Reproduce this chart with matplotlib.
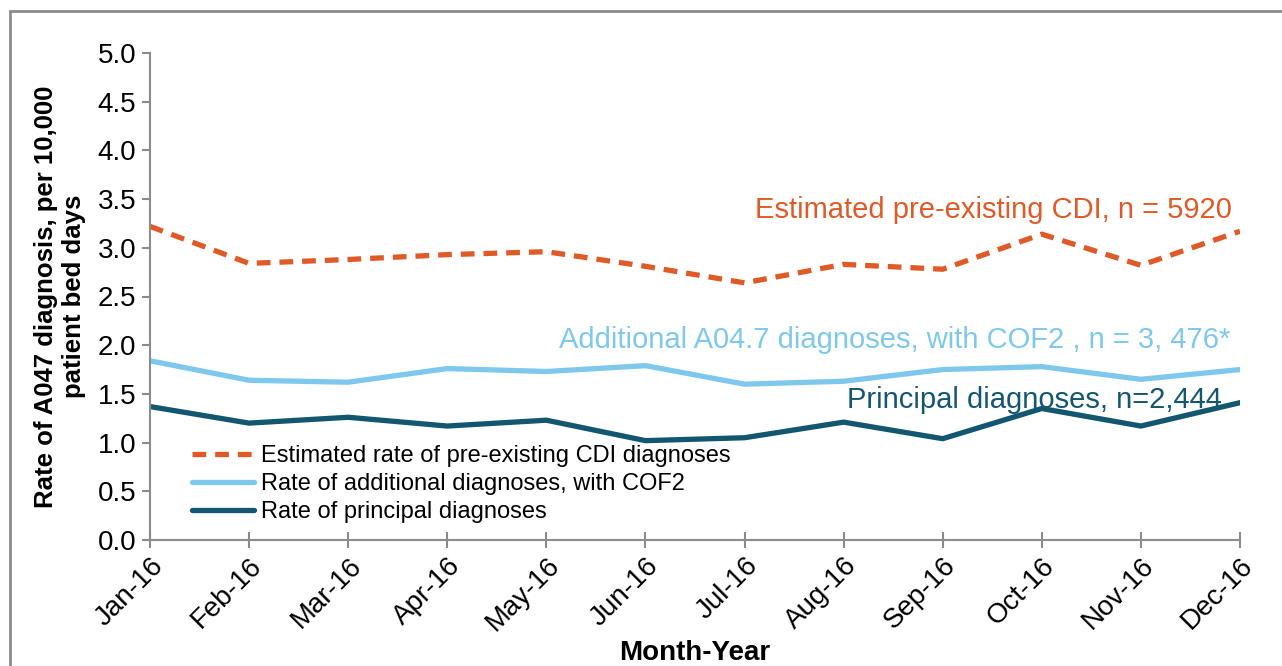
import numpy as np
import matplotlib.pyplot as plt
from matplotlib.patches import Rectangle

months = ['Jan-16', 'Feb-16', 'Mar-16', 'Apr-16', 'May-16', 'Jun-16',
          'Jul-16', 'Aug-16', 'Sep-16', 'Oct-16', 'Nov-16', 'Dec-16']
pre_existing = [3.22, 2.84, 2.88, 2.93, 2.96, 2.81, 2.64, 2.83, 2.78, 3.14, 2.82, 3.17]
additional = [1.84, 1.64, 1.62, 1.76, 1.73, 1.79, 1.60, 1.63, 1.75, 1.78, 1.65, 1.75]
principal = [1.37, 1.20, 1.26, 1.17, 1.23, 1.02, 1.05, 1.21, 1.04, 1.35, 1.17, 1.41]

c_orange = '#E05A28'
c_light = '#7DC8EC'
c_dark = '#125670'
c_axis = '#8C8C8C'

plt.rcParams['font.family'] = ['Liberation Sans', 'DejaVu Sans']

fig = plt.figure(figsize=(12.82, 6.66), dpi=100)
W, H = 1282, 666
ax = fig.add_axes([150 / W, 1 - 540 / H, (1240 - 150) / W, (540 - 53) / H])

x = np.arange(len(months))
ax.plot(x, pre_existing, color=c_orange, lw=3.8, ls=(0, (2.6, 1.7)),
        label='Estimated rate of pre-existing CDI diagnoses')
ax.plot(x, additional, color=c_light, lw=3.8, solid_capstyle='round',
        label='Rate of additional diagnoses, with COF2')
ax.plot(x, principal, color=c_dark, lw=3.8, solid_capstyle='round',
        label='Rate of principal diagnoses')

ax.set_xlim(0, len(months) - 1)
ax.set_ylim(0, 5)
ax.set_yticks(np.arange(0, 5.01, 0.5))
ax.set_yticklabels([f'{v:.1f}' for v in np.arange(0, 5.01, 0.5)])
ax.set_xticks(x)
ax.set_xticklabels(months, rotation=45, ha='right', rotation_mode='anchor')

for s in ['top', 'right']:
    ax.spines[s].set_visible(False)
for s in ['left', 'bottom']:
    ax.spines[s].set_color(c_axis)
    ax.spines[s].set_linewidth(1.5)
ax.tick_params(axis='y', direction='out', length=6, width=1.5, color=c_axis,
               labelsize=20, pad=4)
ax.tick_params(axis='x', direction='inout', length=12, width=1.5, color=c_axis,
               labelsize=20, pad=3)

ax.set_ylabel('Rate of A047 diagnosis, per 10,000\npatient bed days',
              fontsize=18.5, fontweight='bold', labelpad=8, linespacing=1.25)
ax.set_xlabel('Month-Year', fontsize=20, fontweight='bold', labelpad=3)

ax.text(10.92, 3.24, 'Estimated pre-existing CDI, n = 5920', color=c_orange,
        fontsize=21, ha='right', va='bottom')
ax.text(10.9, 1.91, 'Additional A04.7 diagnoses, with COF2 , n = 3, 476*',
        color=c_light, fontsize=21, ha='right', va='bottom')
ax.text(10.82, 1.29, 'Principal diagnoses, n=2,444', color=c_dark,
        fontsize=21, ha='right', va='bottom')

ax.legend(loc='lower left', bbox_to_anchor=(0.03, 0.015), frameon=False,
          fontsize=17, handlelength=2.6, handletextpad=0.3, labelspacing=0.25,
          borderaxespad=0)

fig.patches.append(Rectangle((10 / W, -0.1), 1.2, 1 - 11 / H + 0.1,
                             transform=fig.transFigure, fill=False,
                             edgecolor=c_axis, lw=2))

fig.savefig('out.png', dpi=100)
